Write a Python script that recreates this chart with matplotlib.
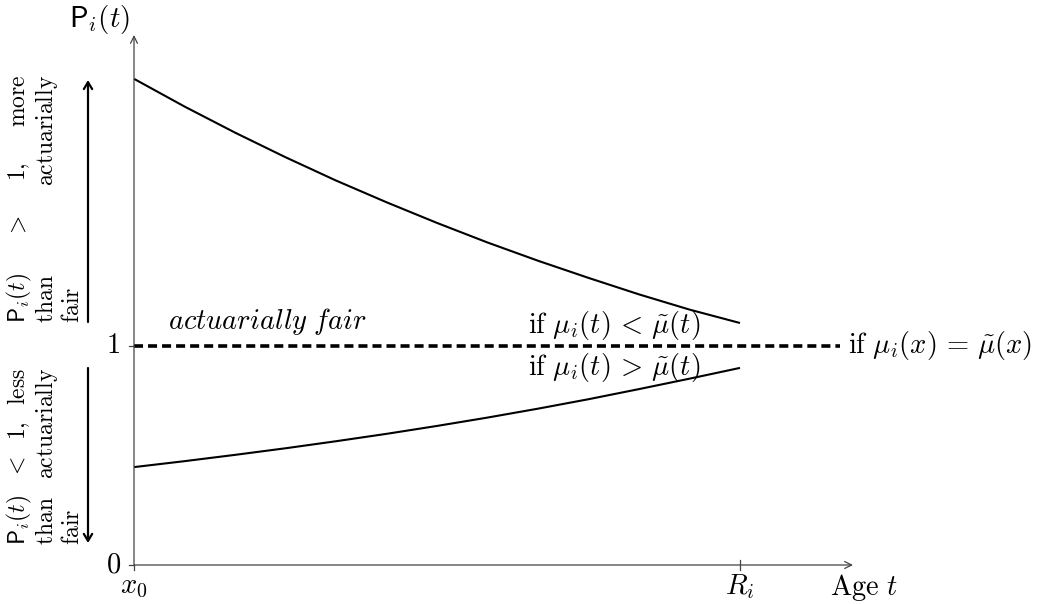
import matplotlib
matplotlib.use("Agg")
import matplotlib.pyplot as plt

plt.rcParams["mathtext.fontset"] = "cm"
plt.rcParams["lines.scale_dashes"] = False

# ---------------------------------------------------------------------------
# Data read off the schematic (age rescaled so that x0 = 0 and R_i = 1)
# ---------------------------------------------------------------------------
age = [0.0, 0.083, 0.167, 0.25, 0.333, 0.417, 0.5, 0.583, 0.667, 0.75,
       0.833, 0.917, 1.0]
p_above = [2.22, 2.094, 1.974, 1.862, 1.756, 1.656, 1.562, 1.473, 1.389,
           1.311, 1.236, 1.166, 1.105]
p_below = [0.447, 0.474, 0.503, 0.533, 0.565, 0.599, 0.635, 0.673, 0.714,
           0.757, 0.803, 0.851, 0.90]
fair_level = 1.0
fair_age = [0.0, 1.165]

y_ticks = [0, 1]
y_ticklabels = ["0", "1"]
x_ticks = [0, 1]
x_ticklabels = [r"$x_0$", r"$R_i$"]

# pixel geometry of the original drawing
W, H = 1050, 604
X0_PX, R_PX = 134, 740
Y0_PX, Y1_PX = 565, 346
AXIS_COLOR = "#444444"
FS = 20.5
RS = 17


def px(x, y):
    """Image pixel position -> data coordinates."""
    return ((x - X0_PX) / (R_PX - X0_PX), (Y0_PX - y) / (Y0_PX - Y1_PX))


fig = plt.figure(figsize=(W / 100, H / 100), dpi=100)
ax = fig.add_axes([0, 0, 1, 1])
ax.set_xlim(px(0, 0)[0], px(W, 0)[0])
ax.set_ylim(px(0, H)[1], px(0, 0)[1])
ax.axis("off")

# axes with arrow heads
arrow_axis = dict(arrowstyle="->,head_length=0.5,head_width=0.25", lw=0.9,
                  color=AXIS_COLOR, shrinkA=0, shrinkB=0)
ax.annotate("", xy=px(853, Y0_PX), xytext=(0, 0), arrowprops=arrow_axis)
ax.annotate("", xy=px(X0_PX, 35), xytext=(0, 0), arrowprops=arrow_axis)

# ticks and tick labels
tick_dx = px(X0_PX + 5, 0)[0]
tick_dy = px(0, Y0_PX - 5)[1]
for yt, lab in zip(y_ticks, y_ticklabels):
    ax.plot([-tick_dx, 0], [yt, yt], color=AXIS_COLOR, lw=0.9)
    ax.text(px(121, 0)[0], yt, lab, ha="right", va="center", fontsize=FS,
            family="cmr10")
for xt, lab in zip(x_ticks, x_ticklabels):
    lo = -tick_dy
    hi = tick_dy if xt != 0 else 0
    ax.plot([xt, xt], [lo, hi], color=AXIS_COLOR, lw=0.9)
    ax.text(xt, px(0, 572)[1], lab, ha="center", va="top", fontsize=FS)
ax.text(px(830, 0)[0], px(0, 572)[1], r"$\mathrm{Age}\ t$", ha="left",
        va="top", fontsize=FS)
ax.text(px(100, 0)[0], px(0, 3)[1], r"$\mathsf{P}_i(t)$", ha="center",
        va="top", fontsize=21)

# curves
ax.plot(age, p_above, color="black", lw=1.5, solid_capstyle="butt")
ax.plot(age, p_below, color="black", lw=1.5, solid_capstyle="butt")
ax.plot(fair_age, [fair_level, fair_level], color="black", lw=2.6,
        dashes=(6.5, 3.6))

# annotations
ax.text(px(168, 0)[0], px(0, 322)[1], r"$\mathit{actuarially\ fair}$",
        ha="left", va="center", fontsize=FS)
ax.text(px(528, 0)[0], px(0, 326)[1],
        r"$\mathrm{if}\ \mu_i(t)\,<\,\tilde{\mu}(t)$",
        ha="left", va="center", fontsize=FS)
ax.text(px(528, 0)[0], px(0, 367)[1],
        r"$\mathrm{if}\ \mu_i(t)\,>\,\tilde{\mu}(t)$",
        ha="left", va="center", fontsize=FS)
ax.text(px(848, 0)[0], fair_level,
        r"$\mathrm{if}\ \mu_i(x)\,=\,\tilde{\mu}(x)$",
        ha="left", va="center", fontsize=FS)

# side arrows
arrow_side = dict(arrowstyle="->,head_length=0.5,head_width=0.3", lw=1.6,
                  color="black", shrinkA=0, shrinkB=0)
ax.annotate("", xy=px(88, 80), xytext=px(88, 322), arrowprops=arrow_side)
ax.annotate("", xy=px(88, 543), xytext=px(88, 368), arrowprops=arrow_side)

# justified vertical text blocks
renderer = fig.canvas.get_renderer()


def column(words, x_base, y_bottom, y_top, fs, stretch=True):
    texts = [ax.text(0, 0, w, rotation=90, rotation_mode="anchor", ha="left",
                     va="baseline", fontsize=fs) for w in words]
    lengths = [t.get_window_extent(renderer).height for t in texts]
    if stretch and len(texts) > 1:
        gap = (y_bottom - y_top - sum(lengths)) / (len(texts) - 1)
    else:
        gap = fs * 0.45
    pos = y_bottom
    for t, length in zip(texts, lengths):
        t.set_position(px(x_base, pos))
        pos -= length + gap


column([r"$\mathsf{P}_i(t)$", r"$>$", r"$1,$", r"$\mathrm{more}$"], 25, 323, 75, RS)
column([r"$\mathrm{than}$", r"$\mathrm{actuarially}$"], 53, 323, 75, RS)
column([r"$\mathrm{fair}$"], 79, 323, 75, RS, stretch=False)
column([r"$\mathsf{P}_i(t)$", r"$<$", r"$1,$", r"$\mathrm{less}$"], 25, 545, 368, RS)
column([r"$\mathrm{than}$", r"$\mathrm{actuarially}$"], 53, 545, 368, RS)
column([r"$\mathrm{fair}$"], 79, 545, 368, RS, stretch=False)

fig.savefig("out.png", dpi=100)
